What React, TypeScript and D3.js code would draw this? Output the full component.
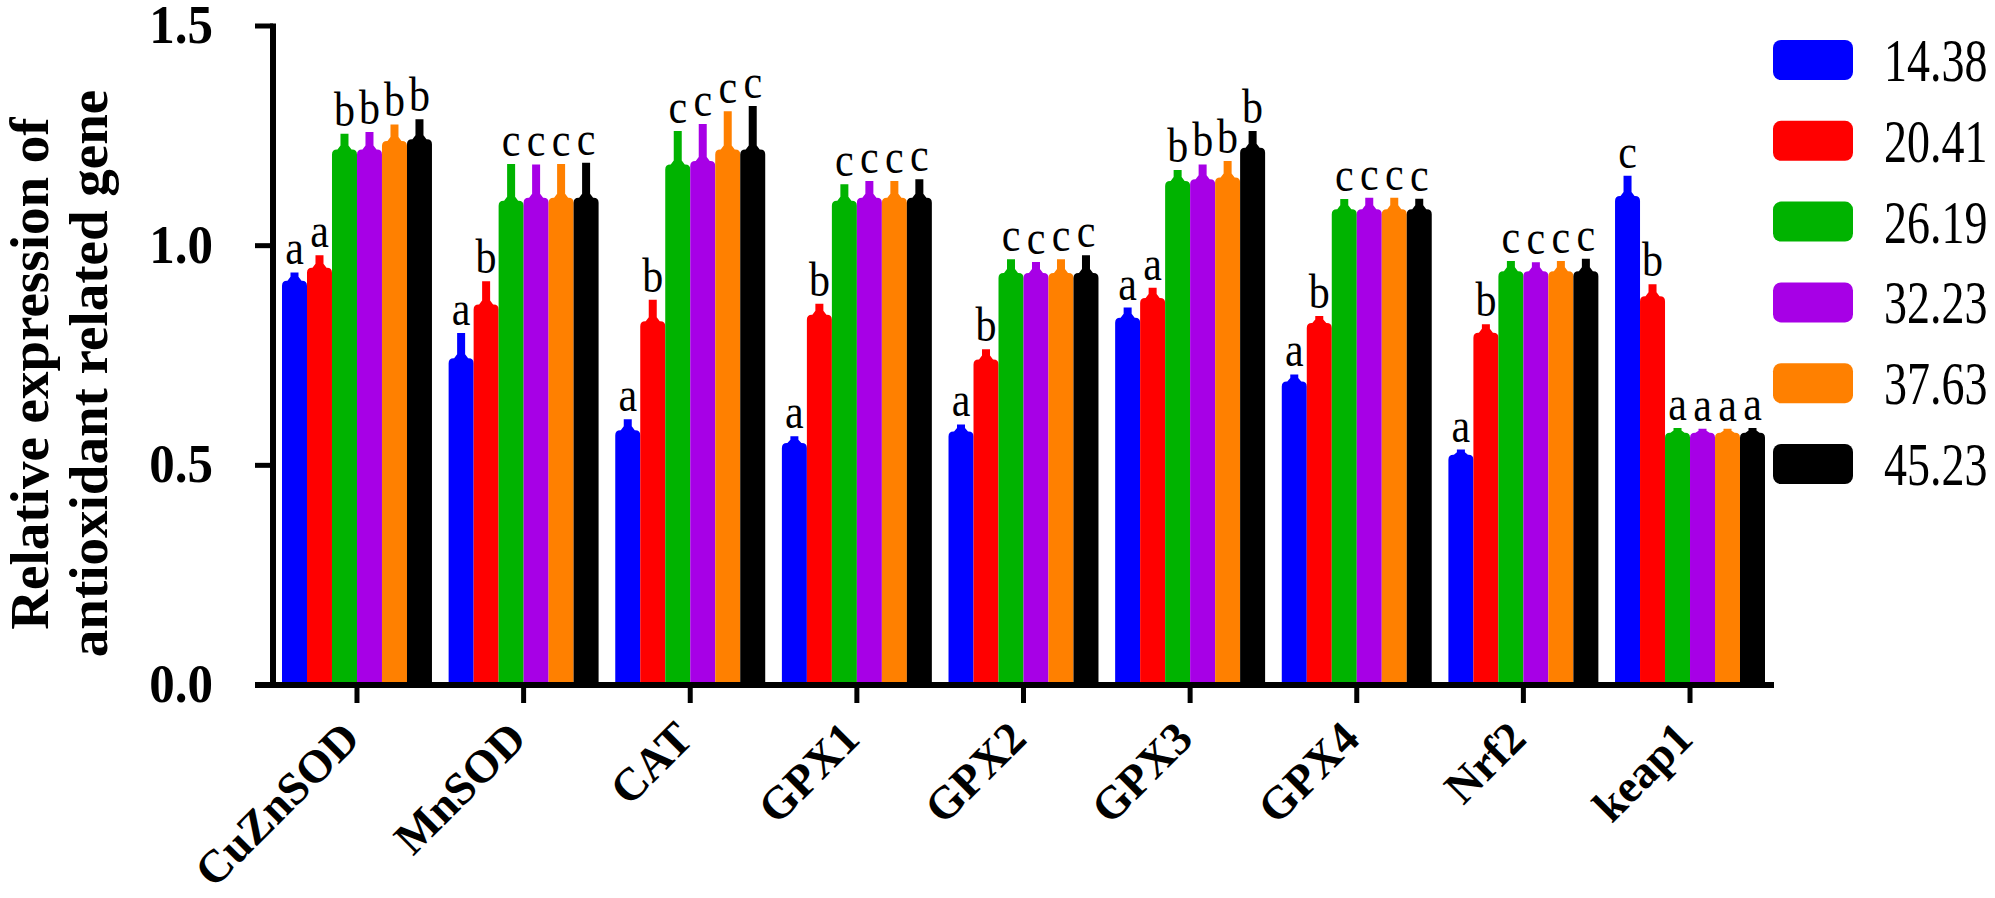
import * as d3 from 'd3';

const genes = ['CuZnSOD', 'MnSOD', 'CAT', 'GPX1', 'GPX2', 'GPX3', 'GPX4', 'Nrf2', 'keap1'];
const groups = ['14.38', '20.41', '26.19', '32.23', '37.63', '45.23'];
const colors = ['#0000ff', '#ff0000', '#00b300', '#a700e6', '#ff8000', '#000000'];

// mean values per group, one entry per gene
const g1438 = [0.92, 0.744, 0.58, 0.551, 0.577, 0.836, 0.691, 0.524, 1.113];
const g2041 = [0.95, 0.866, 0.828, 0.843, 0.741, 0.881, 0.824, 0.802, 0.885];
const g2619 = [1.219, 1.102, 1.185, 1.102, 0.938, 1.147, 1.083, 0.942, 0.574];
const g3223 = [1.219, 1.109, 1.193, 1.109, 0.938, 1.151, 1.083, 0.942, 0.574];
const g3763 = [1.238, 1.109, 1.219, 1.109, 0.938, 1.155, 1.083, 0.942, 0.574];
const g4523 = [1.242, 1.109, 1.219, 1.109, 0.938, 1.223, 1.083, 0.942, 0.574];

// error (SD)
const e1438 = [0.019, 0.057, 0.025, 0.015, 0.016, 0.023, 0.016, 0.012, 0.046];
const e2041 = [0.028, 0.053, 0.049, 0.025, 0.023, 0.023, 0.016, 0.019, 0.027];
const e2619 = [0.036, 0.084, 0.076, 0.038, 0.031, 0.025, 0.023, 0.023, 0.011];
const e3223 = [0.04, 0.076, 0.084, 0.038, 0.025, 0.034, 0.026, 0.02, 0.009];
const e3763 = [0.038, 0.077, 0.087, 0.038, 0.031, 0.038, 0.026, 0.023, 0.009];
const e4523 = [0.046, 0.08, 0.099, 0.042, 0.04, 0.038, 0.024, 0.028, 0.011];

// significance letters
const l1438 = ['a', 'a', 'a', 'a', 'a', 'a', 'a', 'a', 'c'];
const l2041 = ['a', 'b', 'b', 'b', 'b', 'a', 'b', 'b', 'b'];
const l2619 = ['b', 'c', 'c', 'c', 'c', 'b', 'c', 'c', 'a'];
const l3223 = ['b', 'c', 'c', 'c', 'c', 'b', 'c', 'c', 'a'];
const l3763 = ['b', 'c', 'c', 'c', 'c', 'b', 'c', 'c', 'a'];
const l4523 = ['b', 'c', 'c', 'c', 'c', 'b', 'c', 'c', 'a'];

const yTicks = [0, 0.5, 1.0, 1.5];

const means = [g1438, g2041, g2619, g3223, g3763, g4523];
const errs = [e1438, e2041, e2619, e3223, e3763, e4523];
const letters = [l1438, l2041, l2619, l3223, l3763, l4523];

const FONT = "'Liberation Serif','Times New Roman',serif";

export default function App() {
  const width = 1995;
  const height = 898;

  const y = d3.scaleLinear().domain([0, 1.5]).range([685, 26]);
  const x0 = d3
    .scaleBand<string>()
    .domain(genes)
    .range([273, 1774])
    .paddingInner(0.1)
    .paddingOuter(0.054);
  const x1 = d3.scaleBand<string>().domain(groups).range([0, x0.bandwidth()]);
  const bw = x1.bandwidth();
  const fmt = d3.format('.1f');

  // bar + error bar drawn as one "bottle" shape, like the Prism export
  const barPath = (x: number, top: number, w: number, bottom: number, errTop: number) => {
    const r = 5;
    const cx = x + w / 2;
    const neck = 4; // half width of error stem
    const rise = top - errTop;
    const flare = Math.min(4, rise / 2);
    const p = d3.path();
    p.moveTo(x, bottom);
    p.lineTo(x, top + r);
    p.quadraticCurveTo(x, top, x + r, top);
    if (rise > 1) {
      p.lineTo(cx - neck - 3, top);
      p.lineTo(cx - neck, top - flare);
      p.lineTo(cx - neck, errTop);
      p.lineTo(cx + neck, errTop);
      p.lineTo(cx + neck, top - flare);
      p.lineTo(cx + neck + 3, top);
    }
    p.lineTo(x + w - r, top);
    p.quadraticCurveTo(x + w, top, x + w, top + r);
    p.lineTo(x + w, bottom);
    p.closePath();
    return p.toString();
  };

  const legendY = d3.scaleLinear().domain([0, 5]).range([60, 464]);
  const midY = (y(0) + y(1.5)) / 2 + 18;

  return (
    <div style={{ position: 'absolute', left: 0, top: 0 }}>
      <svg width={width} height={height} style={{ display: 'block', background: '#fff' }}>
        {/* bars */}
        {genes.map((gene, gi) => (
          <g key={gene} transform={`translate(${x0(gene)},0)`}>
            {groups.map((grp, si) => {
              const v = means[si][gi];
              const e = errs[si][gi];
              const bx = x1(grp) as number;
              const cx = bx + bw / 2;
              const top = y(v);
              const et = y(v + e);
              return (
                <g key={grp}>
                  <path d={barPath(bx, top, bw, y(0), et)} fill={colors[si]} />
                  <text
                    transform={`translate(${cx},${et - 8}) scale(1,1.18)`}
                    textAnchor="middle"
                    fontFamily={FONT}
                    fontSize={42}
                    fill="#000"
                  >
                    {letters[si][gi]}
                  </text>
                </g>
              );
            })}
          </g>
        ))}

        {/* y axis */}
        <line x1={273} x2={273} y1={y(1.5) - 2.5} y2={y(0) + 3} stroke="#000" strokeWidth={6} />
        {yTicks.map((t) => (
          <g key={t}>
            <line x1={255} x2={273} y1={y(t)} y2={y(t)} stroke="#000" strokeWidth={5} />
            <text
              transform={`translate(213,${y(t) + 17}) scale(1,1.08)`}
              textAnchor="end"
              fontFamily={FONT}
              fontWeight="bold"
              fontSize={51}
              fill="#000"
            >
              {fmt(t)}
            </text>
          </g>
        ))}

        {/* x axis */}
        <line x1={255} x2={1774} y1={y(0)} y2={y(0)} stroke="#000" strokeWidth={6} />
        {genes.map((gene) => {
          const cx = (x0(gene) as number) + x0.bandwidth() / 2;
          return (
            <g key={gene}>
              <line x1={cx} x2={cx} y1={y(0)} y2={y(0) + 18} stroke="#000" strokeWidth={5} />
              <text
                transform={`translate(${cx + 5},${y(0) + 56}) rotate(-45)`}
                textAnchor="end"
                fontFamily={FONT}
                fontWeight="bold"
                fontSize={46}
                fill="#000"
              >
                {gene}
              </text>
            </g>
          );
        })}

        {/* y axis title */}
        <text
          transform={`translate(48,${midY}) rotate(-90)`}
          textAnchor="middle"
          fontFamily={FONT}
          fontWeight="bold"
          fontSize={55}
          fill="#000"
        >
          Relative expression of
        </text>
        <text
          transform={`translate(107,${midY}) rotate(-90)`}
          textAnchor="middle"
          fontFamily={FONT}
          fontWeight="bold"
          fontSize={55}
          fill="#000"
        >
          antioxidant related gene
        </text>

        {/* legend */}
        {groups.map((grp, si) => {
          const cy = legendY(si);
          return (
            <g key={grp}>
              <rect x={1773} y={cy - 20} width={80} height={40} rx={8} fill={colors[si]} />
              <text
                transform={`translate(1884,${cy + 21}) scale(1,1.35)`}
                fontFamily={FONT}
                fontSize={46}
                fill="#000"
              >
                {grp}
              </text>
            </g>
          );
        })}
      </svg>
    </div>
  );
}
